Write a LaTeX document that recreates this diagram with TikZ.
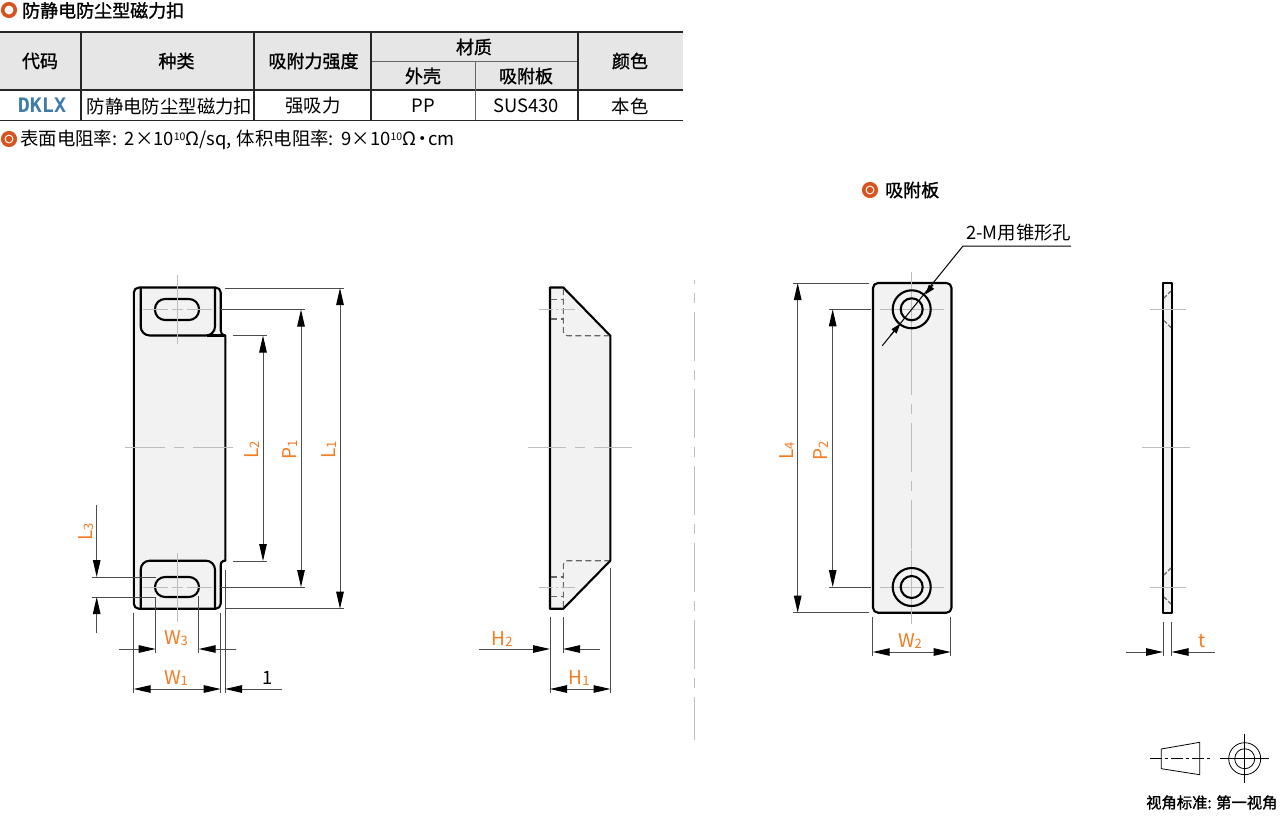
\documentclass[tikz,border=0pt]{standalone}
\usepackage{fontspec}
\setmainfont{Noto Sans CJK SC}
\newfontfamily\medfont[FakeBold=1.3]{Noto Sans CJK SC}
\newfontfamily\codefont{DejaVu Sans Mono}
\usetikzlibrary{arrows.meta}
\definecolor{dimorange}{HTML}{F47B20}
\definecolor{iconorange}{HTML}{D9531E}
\definecolor{codeblue}{HTML}{3F7CA8}
\definecolor{headgray}{HTML}{E6E6E6}
\definecolor{partgray}{HTML}{F2F2F2}
\definecolor{centergray}{HTML}{BDBDBD}
\newcommand{\dimsub}[1]{{\fontsize{13}{13}\selectfont\raisebox{-1pt}{#1}}}
\newcommand{\powten}{{\fontsize{10.5}{10.5}\selectfont\raisebox{5pt}{10}}}
\tikzset{
    rule/.style={line width=1.3pt, color=black!85},
    thinrule/.style={line width=1pt, color=black!60},
    celltext/.style={inner sep=0pt, font=\fontsize{18.4}{18.4}\selectfont},
    headtext/.style={inner sep=0pt, font=\fontsize{18}{18}\selectfont\medfont},
    outline/.style={line width=2.1pt, line join=round, color=black},
    hiddenline/.style={line width=1.1pt, dash pattern=on 6pt off 3.5pt, color=black!60},
    centerline/.style={line width=0.9pt, color=centergray, dash pattern=on 49pt off 9pt on 10pt off 9pt},
    crossline/.style={line width=0.9pt, color=centergray},
    extline/.style={line width=1pt, color=black!70},
    dimline/.style={line width=1pt, color=black!70, {Triangle[length=17pt,width=7.5pt,color=black]}-{Triangle[length=17pt,width=7.5pt,color=black]}},
    dimin/.style={line width=1pt, color=black!70, -{Triangle[length=17pt,width=7.5pt,color=black]}},
    leadertip/.style={line width=1pt, color=black, -{Triangle[length=10pt,width=6.5pt]}},
    dimlabel/.style={inner sep=0pt, text=dimorange, font=\fontsize{19}{19}\selectfont},
    bullet/.style={circle, draw=iconorange, line width=3.6pt, fill=white, minimum size=12.5pt, inner sep=0pt},
    bulletdot/.style={circle, fill=iconorange, minimum size=6.5pt, inner sep=0pt},
}
\begin{document}
\begin{tikzpicture}[x=1pt, y=-1pt]
    \useasboundingbox (0,0) rectangle (1280,823);

    % table
    \fill[headgray] (0,32) rectangle (683,90);
    \node[bullet] (TitleIcon) at (9,10) {};
    \node[headtext, anchor=west] (Title) at (22,10.5) {防静电防尘型磁力扣};
    \draw[rule] (0,32) -- (683,32);
    \draw[rule] (0,90) -- (683,90);
    \draw[rule] (0,120.5) -- (683,120.5);
    \draw[thinrule] (371,61) -- (578,61);
    \foreach \x in {81,254,371,578}
        \draw[rule] (\x,32) -- (\x,120);
    \draw[thinrule] (475,61) -- (475,120);
    \node[headtext] (CodeHead) at (40,61) {代码};
    \node[headtext] (KindHead) at (176.5,61) {种类};
    \node[headtext] (ForceHead) at (313.5,61) {吸附力强度};
    \node[headtext] (MatHead) at (474,47) {材质};
    \node[headtext] (ColorHead) at (630,61) {颜色};
    \node[headtext] (ShellHead) at (423,76) {外壳};
    \node[headtext] (PlateHead) at (526,76) {吸附板};
    \node[inner sep=0pt, text=codeblue, font=\codefont\bfseries\fontsize{20}{20}\selectfont] (CodeCell) at (42,105.5) {DKLX};
    \node[celltext] (KindCell) at (169.5,107) {防静电防尘型磁力扣};
    \node[celltext] (ForceCell) at (313,106) {强吸力};
    \node[celltext] (ShellCell) at (423,106) {PP};
    \node[celltext] (PlateCell) at (526,106) {SUS430};
    \node[celltext] (ColorCell) at (630,106) {本色};
    \node[bullet] (NoteIcon) at (9,139) {};
    \node[bulletdot] at (NoteIcon) {};
    \node[celltext, anchor=west] (Note) at (20,139.5) {表面电阻率:\hspace{2pt} 2×10\powten{}Ω/sq,\hspace{1pt} 体积电阻率:\hspace{2pt} 9×10\powten{}Ω\hspace{-3pt}・\hspace{-3pt}cm};

    % magnet body, front view
    \draw[outline, fill=partgray] (139,287.5) -- (215.7,287.5) .. controls (218.5,287.5) and (220.7,289.7) .. (220.7,292.5) -- (220.7,330.5)
        .. controls (220.7,333.5) and (222.5,335.5) .. (225.3,335.5) -- (225.3,560.7) -- (224,560.7)
        .. controls (222,560.7) and (220.7,562.5) .. (220.7,566) -- (220.7,603.7)
        .. controls (220.7,606.5) and (218.5,608.7) .. (215.7,608.7) -- (138.8,608.7)
        .. controls (136,608.7) and (133.8,606.5) .. (133.8,603.7) -- (133.8,292.5)
        .. controls (133.8,289.7) and (136,287.5) .. (139,287.5) -- cycle;
    \draw[outline, rounded corners=9pt] (140.7,287.5) -- (140.7,335.5) -- (215,335.5) -- (215,287.5);
    \draw[outline] (207,335.5) -- (225.3,335.5);
    \draw[outline, rounded corners=9pt] (140.7,608.7) -- (140.7,560.7) -- (215,560.7) -- (215,608.7);
    \draw[outline, rounded corners=10pt] (155,299) rectangle (199,320);
    \draw[outline, rounded corners=10pt] (155,577) rectangle (199,597);
    \foreach \y in {309.5,587} {
        \draw[centerline, dash pattern=on 25pt off 4pt on 11pt off 4pt on 25pt] (143,\y) -- (212,\y);
        \draw[crossline] (177,\y-34.5) -- (177,\y+34.5);
    }
    \draw[centerline, dash pattern=on 40pt off 9pt on 10pt off 9pt on 40pt] (125,447) -- (233,447);

    % dimensions of the front view
    \draw[extline] (225,288) -- (344,288);
    \draw[extline] (225,608.7) -- (344,608.7);
    \draw[dimline] (340,288) -- (340,608.7);
    \draw[extline] (221,309.5) -- (305,309.5);
    \draw[extline] (221,587) -- (305,587);
    \draw[dimline] (301,309.5) -- (301,587);
    \draw[extline] (233,335.5) -- (267,335.5);
    \draw[extline] (233,561) -- (267,561);
    \draw[dimline] (263,335.5) -- (263,561);
    \draw[extline] (92,577) -- (156,577);
    \draw[extline] (92,597) -- (156,597);
    \draw[dimin] (96.7,505) -- (96.7,577);
    \draw[dimin] (96.7,633) -- (96.7,597);
    \draw[extline] (155.7,597) -- (155.7,653);
    \draw[extline] (198.7,596) -- (198.7,653);
    \draw[dimin] (119,649) -- (155.7,649);
    \draw[dimin] (236,649) -- (198.7,649);
    \draw[extline] (133.6,613) -- (133.6,693);
    \draw[extline] (220.7,613) -- (220.7,693);
    \draw[extline] (225,570) -- (225,693);
    \draw[dimline] (133.6,689) -- (220.7,689);
    \draw[dimin] (282,689) -- (225,689);
    \node[dimlabel, rotate=90] (LabelL1) at (329,450) {L\dimsub{1}};
    \node[dimlabel, rotate=90] (LabelP1) at (290,450) {P\dimsub{1}};
    \node[dimlabel, rotate=90] (LabelL2) at (252,450) {L\dimsub{2}};
    \node[dimlabel, rotate=90] (LabelL3) at (86,532) {L\dimsub{3}};
    \node[dimlabel] (LabelW3) at (176,638) {W\dimsub{3}};
    \node[dimlabel] (LabelW1) at (176,678) {W\dimsub{1}};
    \node[celltext] (LabelOne) at (268,678) {1};

    % magnet body, side view
    \draw[outline, fill=partgray] (550,287.5) -- (563.3,287.5) -- (610.3,335.7) -- (610.3,560.7) -- (563.3,608.7) -- (550,608.7) -- cycle;
    \draw[hiddenline, rounded corners=4pt] (563.3,289) -- (563.3,335.7) -- (609,335.7);
    \draw[hiddenline, rounded corners=4pt] (563.3,607) -- (563.3,560.7) -- (609,560.7);
    \draw[hiddenline] (551,299.3) -- (563.3,299.3) (551,319) -- (563.3,319);
    \draw[hiddenline] (551,577) -- (563.3,577) (551,596.7) -- (563.3,596.7);
    \foreach \y in {309.5,587}
        \draw[centerline, dash pattern=on 14pt off 3pt on 2pt off 3pt on 14pt] (539,\y) -- (575,\y);
    \draw[centerline, dash pattern=on 38pt off 9pt on 10pt off 9pt on 38pt] (528,447) -- (632,447);

    % dimensions of the side view
    \draw[extline] (550,617) -- (550,693);
    \draw[extline] (563,617) -- (563,653);
    \draw[extline] (610.5,568) -- (610.5,693);
    \draw[dimin] (479,649) -- (550,649);
    \draw[dimin] (600,649) -- (563,649);
    \draw[dimline] (550,689) -- (610.5,689);
    \node[dimlabel] (LabelH2) at (502,639) {H\dimsub{2}};
    \node[dimlabel] (LabelH1) at (579,678) {H\dimsub{1}};

    % divider
    \draw[centerline, dash phase=45pt] (694.5,280) -- (694.5,740);

    % attraction plate, front view
    \node[bullet] (PlateIcon) at (870,190) {};
    \node[bulletdot] at (PlateIcon) {};
    \node[headtext, anchor=west] (PlateTitle) at (885,190) {吸附板};
    \draw[outline, fill=partgray, rounded corners=5pt] (873,283) rectangle (951.5,612.7);
    \coordinate (HoleTop) at (911.7,309.3);
    \coordinate (HoleBottom) at (911.7,587);
    \foreach \h in {HoleTop,HoleBottom} {
        \draw[crossline] (\h) ++(-32,0) -- ++(64,0);
        \draw[crossline] (\h) ++(0,-37) -- ++(0,74);
        \draw[outline] (\h) circle[radius=19];
        \draw[outline] (\h) circle[radius=11];
    }
    \draw[centerline] (911.5,346) -- (911.5,550);

    % hole leader
    \node[celltext, anchor=west] (HoleLabel) at (966,233) {2-M用锥形孔};
    \coordinate (LeaderKnee) at (963,246);
    \coordinate (LeaderEnd) at (882.3,345.7);
    \draw[line width=1pt] (1071,246) -- (LeaderKnee) -- (LeaderEnd);
    \draw[leadertip] (933,285) -- (925.2,294.5);
    \draw[leadertip] (890.5,335.5) -- (900.4,323.7);

    % dimensions of the plate front view
    \draw[extline] (793,283) -- (868.5,283);
    \draw[extline] (793,612.7) -- (868.5,612.7);
    \draw[dimline] (797.7,283) -- (797.7,612.7);
    \draw[extline] (829,309.3) -- (871,309.3);
    \draw[extline] (829,587) -- (871,587);
    \draw[dimline] (832.7,309.3) -- (832.7,587);
    \draw[extline] (872.7,617) -- (872.7,656);
    \draw[extline] (950.7,617) -- (950.7,656);
    \draw[dimline] (872.7,652) -- (950.7,652);
    \node[dimlabel, rotate=90] (LabelL4) at (787,451) {L\dimsub{4}};
    \node[dimlabel, rotate=90] (LabelP2) at (821,451) {P\dimsub{2}};
    \node[dimlabel] (LabelW2) at (910,641) {W\dimsub{2}};

    % attraction plate, side view
    \draw[outline, fill=partgray] (1163,283) rectangle (1171.7,612.7);
    \draw[hiddenline, dash pattern=on 4pt off 2pt] (1171,291) -- (1164,298);
    \draw[hiddenline, dash pattern=on 4pt off 2pt] (1164,320.7) -- (1171,327.5);
    \draw[hiddenline, dash pattern=on 4pt off 2pt] (1171,568) -- (1164,575);
    \draw[hiddenline, dash pattern=on 4pt off 2pt] (1164,597) -- (1171,604);
    \foreach \y in {309.3,587}
        \draw[crossline] (1150,\y) -- (1186,\y);
    \draw[crossline] (1142,447) -- (1190,447);
    \draw[extline] (1163,622) -- (1163,656);
    \draw[extline] (1171.5,622) -- (1171.5,656);
    \draw[dimin] (1126,652) -- (1163,652);
    \draw[dimin] (1215,652) -- (1171.5,652);
    \node[dimlabel] (LabelT) at (1202,641) {t};

    % projection symbol
    \draw[line width=0.8pt] (1161.3,749) -- (1199.7,742.3) -- (1199.7,774.7) -- (1161.3,768.7) -- cycle;
    \draw[line width=0.6pt, dash pattern=on 12pt off 3pt on 3pt off 3pt] (1150,758.7) -- (1211,758.7);
    \coordinate (SymbolEye) at (1244.7,758.7);
    \draw[line width=0.8pt] (SymbolEye) circle[radius=16];
    \draw[line width=0.8pt] (SymbolEye) circle[radius=10];
    \draw[line width=0.6pt] (1220,758.7) -- (1269,758.7);
    \draw[line width=0.6pt] (1244.7,734) -- (1244.7,783);
    \node[inner sep=0pt, anchor=west, font=\fontsize{15.3}{15.3}\selectfont\medfont] (SymbolText) at (1146,802.5) {视角标准: 第一视角};
\end{tikzpicture}
\end{document}
